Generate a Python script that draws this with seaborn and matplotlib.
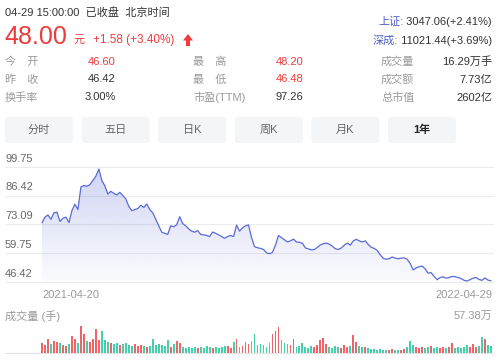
import numpy as np
import pandas as pd
import matplotlib
matplotlib.use('Agg')
import matplotlib.pyplot as plt
from matplotlib.colors import to_rgb
from matplotlib.patches import FancyBboxPatch, Polygon
import seaborn as sns

# ---- data ----
quote_time = '04-29 15:00:00  已收盘  北京时间'
last_price = '48.00'
price_change = '+1.58 (+3.40%)'

index_names = ['上证:', '深成:']
index_values = [' 3047.06(+2.41%)', ' 11021.44(+3.69%)']

stat_labels = [['今　开', '最　高', '成交量'],
               ['昨　收', '最　低', '成交额'],
               ['换手率', '市盈(TTM)', '总市值']]
stat_values = [['46.60', '48.20', '16.29万手'],
               ['46.42', '46.48', '7.73亿'],
               ['3.00%', '97.26', '2602亿']]
stat_red = [[True, True, False],
            [False, True, False],
            [False, False, False]]

tabs = ['分时', '五日', '日K', '周K', '月K', '1年']

price_ticks = [99.75, 86.42, 73.09, 59.75, 46.42]
date_labels = ['2021-04-20', '2022-04-29']
vol_title = '成交量 (手)'
vol_max = 57.38
vol_max_label = '57.38万'

# closing prices, roughly every 1.5 trading days
price = [73.9, 76.5, 77.5, 75.5, 78.5, 78.8, 74.5, 76.0, 76.5, 74.0,
         79.5, 82.5, 80.0, 90.5, 91.2, 90.8, 91.6, 93.5, 95.5, 98.8,
         93.5, 91.0, 87.2, 88.5, 87.5, 86.8, 88.0, 86.5, 85.0, 81.5,
         79.5, 80.0, 80.5, 82.0, 81.0, 82.6, 80.0, 78.5, 75.5, 72.5,
         69.5, 69.0, 68.5, 72.5, 72.0, 73.0, 76.7, 73.5, 72.5, 71.0,
         70.0, 69.5, 70.3, 68.5, 68.3, 68.0, 67.5, 69.6, 69.0, 68.3,
         67.5, 66.7, 67.5, 68.0, 67.5, 72.8, 70.0, 71.5, 72.5, 72.9,
         67.0, 62.8, 62.3, 62.0, 61.5, 60.0, 59.5, 60.2, 63.5, 68.0,
         67.0, 66.0, 65.0, 65.5, 66.3, 65.0, 64.8, 64.4, 62.2, 61.8,
         61.3, 61.5, 62.5, 63.6, 64.2, 64.4, 64.0, 63.0, 61.8, 61.5,
         62.2, 63.5, 64.5, 63.5, 65.5, 66.2, 65.5, 65.0, 65.5, 63.8,
         62.5, 62.0, 61.0, 59.0, 57.4, 57.0, 57.2, 58.0, 57.5, 57.2,
         57.5, 57.6, 57.0, 55.0, 52.0, 53.0, 53.5, 53.8, 52.5, 50.5,
         50.8, 49.0, 47.5, 48.5, 48.8, 48.2, 48.5, 49.0, 48.9, 48.5,
         48.0, 47.2, 46.9, 47.5, 48.2, 48.5, 47.6, 47.2, 48.3, 47.3,
         47.0]

# volume in 万手
volume = [22.3, 17.1, 30.8, 19.5, 24.6, 23.9, 22.0, 17.4, 15.6, 19.8,
          35.2, 30.4, 22.1, 57.38, 39.6, 26.1, 24.4, 30.8, 50.6, 28.3,
          46.2, 26.7, 24.0, 22.2, 19.5, 22.0, 17.8, 19.6, 22.3, 17.4,
          15.2, 19.9, 15.6, 17.3, 15.1, 13.4, 15.5, 30.6, 17.7, 19.4,
          17.2, 15.6, 28.4, 13.1, 19.7, 26.3, 21.8, 13.5, 11.2, 13.0,
          11.3, 13.6, 10.8, 13.1, 11.4, 15.2, 13.3, 10.9, 13.5, 11.1,
          13.0, 15.6, 15.1, 11.2, 22.4, 28.7, 13.1, 15.3, 24.1, 19.6,
          24.5, 39.8, 17.3, 19.5, 17.8, 13.0, 22.2, 39.4, 46.5, 55.0,
          28.3, 22.1, 19.9, 17.4, 28.8, 13.2, 15.6, 22.0, 13.4, 11.1,
          15.2, 13.5, 17.8, 28.5, 30.9, 19.6, 13.3, 11.0, 15.3, 13.1,
          11.2, 17.5, 13.6, 15.2, 37.4, 24.0, 15.6, 13.2, 13.4, 11.0,
          8.9, 8.6, 6.7, 8.8, 6.4, 6.8, 6.5, 8.9, 6.6, 6.3,
          6.8, 8.7, 13.1, 26.4, 17.5, 13.3, 11.2, 13.0, 11.3, 13.4,
          15.2, 11.1, 13.5, 10.9, 13.2, 11.4, 13.1, 22.0, 11.2, 13.5,
          11.0, 13.3, 17.6, 13.1, 19.8, 13.4, 15.5, 33.0, 30.6, 17.7,
          15.4]

RED = '#ee3b3b'
VOL_RED = '#f06468'
GREEN = '#45d0ac'
LINE = '#5a6bd6'
DARK = '#333333'
GRAY = '#9a9a9a'
BLUE = '#4d5fc4'

sns.set_style('white')
plt.rcParams['font.family'] = ['Liberation Sans', 'Noto Sans CJK SC', 'DejaVu Sans']

W, H = 500, 360
fig = plt.figure(figsize=(W / 100, H / 100), dpi=100)
fig.patch.set_facecolor('white')


def fx(x):
    return x / W


def fy(y):
    return 1 - y / H


# ---- header ----
fig.text(fx(5), fy(13), quote_time, fontsize=8, color=DARK, va='center')
fig.text(fx(4), fy(37), last_price, fontsize=18, color=RED, va='center')
fig.text(fx(73), fy(40), '元', fontsize=8, color=RED, va='center')
fig.text(fx(93), fy(40), price_change, fontsize=8.5, color=RED, va='center')
arrow = Polygon([(183, 40.5), (188, 34), (193, 40.5), (190, 40.5), (190, 46),
                 (186, 46), (186, 40.5)], closed=True, facecolor=RED,
                edgecolor='none')
arrow.set_xy([(x / 100, (H - y) / 100) for x, y in arrow.get_xy()])
arrow.set_transform(fig.dpi_scale_trans)
fig.patches.append(arrow)

renderer = fig.canvas.get_renderer()
for i, (name, val) in enumerate(zip(index_names, index_values)):
    yy = fy(22 + 19 * i)
    t = fig.text(fx(492), yy, val, fontsize=8, color=DARK, ha='right', va='center')
    bb = t.get_window_extent(renderer)
    fig.text(bb.x0 / W, yy, name, fontsize=8, color=BLUE, ha='right', va='center')

label_x = [5, 193, 381]
value_x = [116, 303, 492]
row_y = [62, 79.5, 97.5]
for r in range(3):
    for c in range(3):
        fig.text(fx(label_x[c]), fy(row_y[r]), stat_labels[r][c], fontsize=8,
                 color=GRAY, va='center')
        fig.text(fx(value_x[c]), fy(row_y[r]), stat_values[r][c], fontsize=8,
                 color=RED if stat_red[r][c] else DARK, ha='right', va='center')

# ---- tabs ----
for i, name in enumerate(tabs):
    x0 = 5 + 76.6 * i
    box = FancyBboxPatch((x0 / 100, (H - 143) / 100), 0.68, 0.26,
                         boxstyle='round,pad=0,rounding_size=0.03',
                         transform=fig.dpi_scale_trans, facecolor='#f4f5f7',
                         edgecolor='none')
    fig.patches.append(box)
    last = i == len(tabs) - 1
    fig.text(fx(x0 + 34), fy(130), name, fontsize=8, ha='center', va='center',
             color='#222222' if last else '#666666',
             fontweight='bold' if last else 'normal')

# ---- price chart ----
days = np.arange(len(price))
scale = 449 / (len(price) - 1)
xlim = (-37 / scale, len(price) - 1 + 2 / scale)

ax = fig.add_axes([fx(5), fy(282), 488 / W, 115 / H])
for v in price_ticks:
    ax.axhline(v, color='#ececec', lw=0.8, zorder=0, clip_on=False)
    ax.annotate(f'{v:.2f}', (0, v), xycoords=ax.get_yaxis_transform(),
                xytext=(0, 2.5), textcoords='offset points', fontsize=8,
                color='#666666', va='bottom', ha='left')

poly = ax.fill_between(days, price, min(price_ticks), facecolor='none',
                       edgecolor='none')
grad = np.linspace(0, 1, 256)[:, None]
rgba = np.zeros((256, 2, 4))
rgba[..., :3] = to_rgb(LINE)
rgba[..., 3] = 0.27 * (1 - grad[:, :1]) + 0.02
im = ax.imshow(rgba, extent=[xlim[0], xlim[1], min(price_ticks), max(price_ticks)],
               aspect='auto', origin='upper', zorder=1)
im.set_clip_path(poly.get_paths()[0], transform=ax.transData)
sns.lineplot(x=days, y=price, color=LINE, linewidth=0.9, ax=ax, zorder=3)

ax.set_xlim(*xlim)
ax.set_ylim(min(price_ticks), max(price_ticks))
ax.set_axis_off()

fig.text(fx(42), fy(295), date_labels[0], fontsize=8, color=GRAY, va='center')
fig.text(fx(492), fy(295), date_labels[1], fontsize=8, color=GRAY, va='center',
         ha='right')

# ---- volume ----
fig.text(fx(5), fy(316), vol_title, fontsize=8, color=GRAY, va='center')
fig.text(fx(492), fy(316), vol_max_label, fontsize=8, color=GRAY, va='center',
         ha='right')

chg = np.diff(np.array(price), prepend=price[0])
vol_df = pd.DataFrame({'day': days, 'vol': volume,
                       'up': chg >= 0})
axv = fig.add_axes([fx(5), fy(353), 488 / W, 27 / H])
axv.bar(vol_df['day'], vol_df['vol'], width=0.62, linewidth=0,
        color=np.where(vol_df['up'], VOL_RED, GREEN))
axv.axhline(0, color='#e4e4e4', lw=0.8, zorder=0, clip_on=False)
axv.set_xlim(*xlim)
axv.set_ylim(0, vol_max)
axv.set_axis_off()

fig.savefig('out.png', dpi=100, facecolor='white')
